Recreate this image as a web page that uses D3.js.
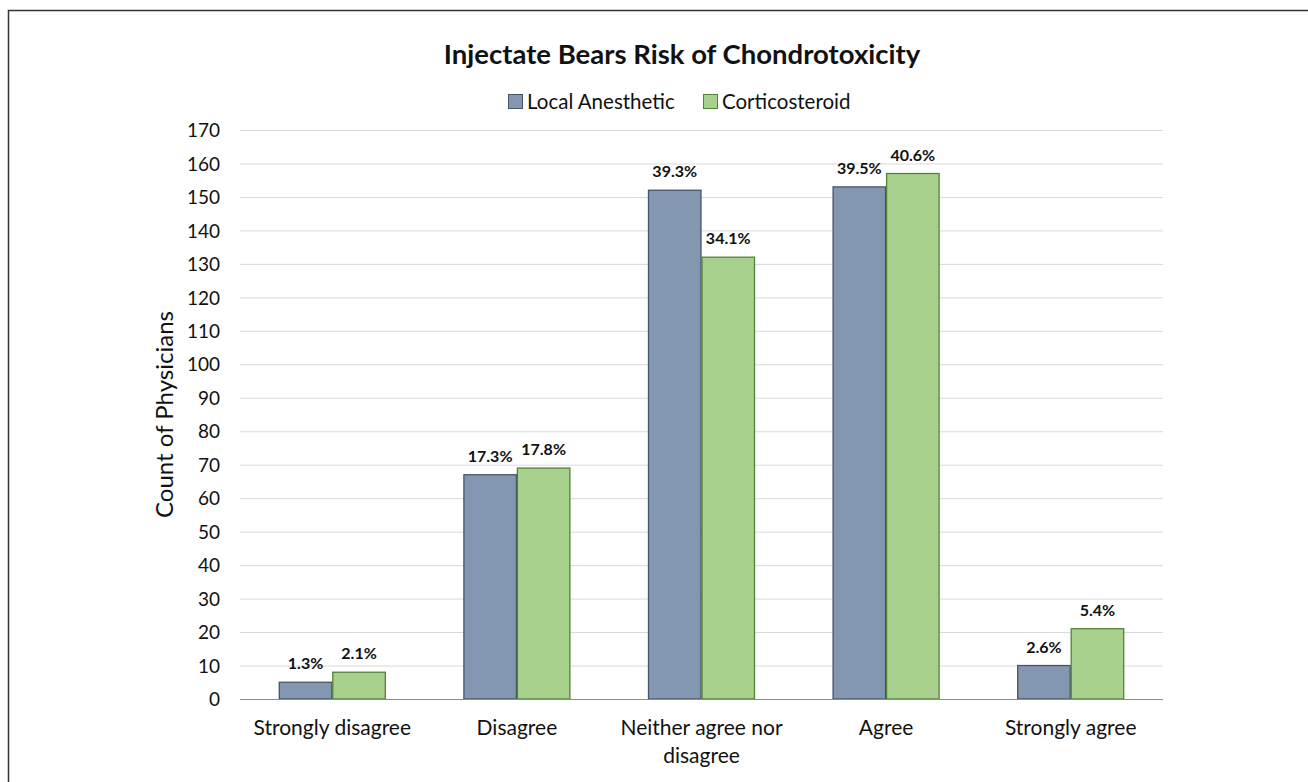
<!DOCTYPE html>
<html>
<head>
<meta charset="utf-8">
<script src="https://cdn.jsdelivr.net/npm/d3@7"></script>
<style>
  html, body { margin: 0; padding: 0; background: #fff; }
  svg { display: block; font-family: Lato, "Open Sans", sans-serif; }
</style>
</head>
<body>
<svg id="chart" width="1308" height="782"></svg>
<script>
// Survey responses: count of physicians per agreement level
const categories = [["Strongly disagree"], ["Disagree"], ["Neither agree nor", "disagree"], ["Agree"], ["Strongly agree"]];
const seriesNames = ["Local Anesthetic", "Corticosteroid"];
const localAnesthetic = [5, 67, 152, 153, 10];
const corticosteroid = [8, 69, 132, 157, 21];
const localPct = ["1.3%", "17.3%", "39.3%", "39.5%", "2.6%"];
const corticoPct = ["2.1%", "17.8%", "34.1%", "40.6%", "5.4%"];
const yTicks = [0, 10, 20, 30, 40, 50, 60, 70, 80, 90, 100, 110, 120, 130, 140, 150, 160, 170];

const fills = ["#8497b0", "#a9d18e"];
const strokes = ["#44546a", "#548235"];

const svg = d3.select("#chart");
const plot = { left: 240, right: 1163, top: 130, bottom: 699 };

// Outer frame
svg.append("rect")
  .attr("x", 8.5).attr("y", 10.5)
  .attr("width", 1320).attr("height", 800)
  .attr("fill", "none").attr("stroke", "#333").attr("stroke-width", 1.5);

const x0 = d3.scaleBand()
  .domain(d3.range(categories.length))
  .range([plot.left, plot.right])
  .paddingInner(0).paddingOuter(0);

const x1 = d3.scaleBand()
  .domain([0, 1])
  .range([0, 107])
  .padding(0);

const y = d3.scaleLinear().domain([0, 170]).range([plot.bottom, plot.top]);

// Gridlines
svg.append("g")
  .selectAll("line")
  .data(yTicks.filter(t => t > 0))
  .join("line")
  .attr("x1", plot.left).attr("x2", plot.right)
  .attr("y1", d => y(d) + 0.5).attr("y2", d => y(d) + 0.5)
  .attr("stroke", "#d9d9d9").attr("stroke-width", 1);

// Y axis labels
const yAxis = d3.axisLeft(y).tickValues(yTicks).tickSize(0).tickPadding(0);
const yg = svg.append("g").attr("transform", `translate(${plot.left - 20},0)`).call(yAxis);
yg.select(".domain").remove();
yg.selectAll("text")
  .attr("font-size", 19).attr("fill", "#111")
  .attr("font-family", "Lato, 'Open Sans', sans-serif")
  .attr("dy", "0.35em");

// Bars
const groups = svg.append("g")
  .selectAll("g")
  .data(categories.map((c, i) => i))
  .join("g")
  .attr("transform", i => `translate(${x0(i) + x0.bandwidth() / 2 - 53.5},0)`);

const seriesValues = [localAnesthetic, corticosteroid];
const seriesLabels = [localPct, corticoPct];

groups.selectAll("rect")
  .data(i => [0, 1].map(s => ({ s, v: seriesValues[s][i] })))
  .join("rect")
  .attr("x", d => x1(d.s) + 0.5)
  .attr("width", x1.bandwidth() - 1)
  .attr("y", d => y(d.v))
  .attr("height", d => y(0) - y(d.v))
  .attr("fill", d => fills[d.s])
  .attr("stroke", d => strokes[d.s])
  .attr("stroke-width", 1.3);

groups.selectAll("text.val")
  .data(i => [0, 1].map(s => ({ s, v: seriesValues[s][i], t: seriesLabels[s][i] })))
  .join("text")
  .attr("class", "val")
  .attr("x", d => x1(d.s) + x1.bandwidth() / 2)
  .attr("y", d => y(d.v) - 13)
  .attr("text-anchor", "middle")
  .attr("font-size", 16).attr("font-weight", "bold").attr("fill", "#111")
  .text(d => d.t);

// X axis baseline
svg.append("line")
  .attr("x1", plot.left).attr("x2", plot.right)
  .attr("y1", plot.bottom + 0.5).attr("y2", plot.bottom + 0.5)
  .attr("stroke", "#8c8c8c").attr("stroke-width", 1);

// Category labels
const xl = svg.append("g").selectAll("text")
  .data(categories)
  .join("text")
  .attr("x", (c, i) => x0(i) + x0.bandwidth() / 2)
  .attr("y", 735)
  .attr("text-anchor", "middle")
  .attr("font-size", 21).attr("fill", "#111");
xl.selectAll("tspan")
  .data(c => c)
  .join("tspan")
  .attr("x", function () { return d3.select(this.parentNode).attr("x"); })
  .attr("dy", (d, j) => j === 0 ? 0 : 28)
  .text(d => d);

// Y axis title
svg.append("text")
  .attr("transform", `translate(173,${(plot.top + plot.bottom) / 2}) rotate(-90)`)
  .attr("text-anchor", "middle")
  .attr("font-size", 24).attr("fill", "#111")
  .text("Count of Physicians");

// Title
svg.append("text")
  .attr("x", 682).attr("y", 64)
  .attr("text-anchor", "middle")
  .attr("font-size", 27.5).attr("font-weight", "bold").attr("fill", "#111")
  .text("Injectate Bears Risk of Chondrotoxicity");

// Legend
const legendItems = [{ x: 508, s: 0 }, { x: 703, s: 1 }];
const lg = svg.append("g").selectAll("g")
  .data(legendItems)
  .join("g")
  .attr("transform", d => `translate(${d.x},94)`);
lg.append("rect")
  .attr("x", 0.5).attr("y", 0.5).attr("width", 14).attr("height", 14)
  .attr("fill", d => fills[d.s]).attr("stroke", d => strokes[d.s]).attr("stroke-width", 1);
lg.append("text")
  .attr("x", 19).attr("y", 15)
  .attr("font-size", 20.5).attr("fill", "#111")
  .text(d => seriesNames[d.s]);
</script>
</body>
</html>
